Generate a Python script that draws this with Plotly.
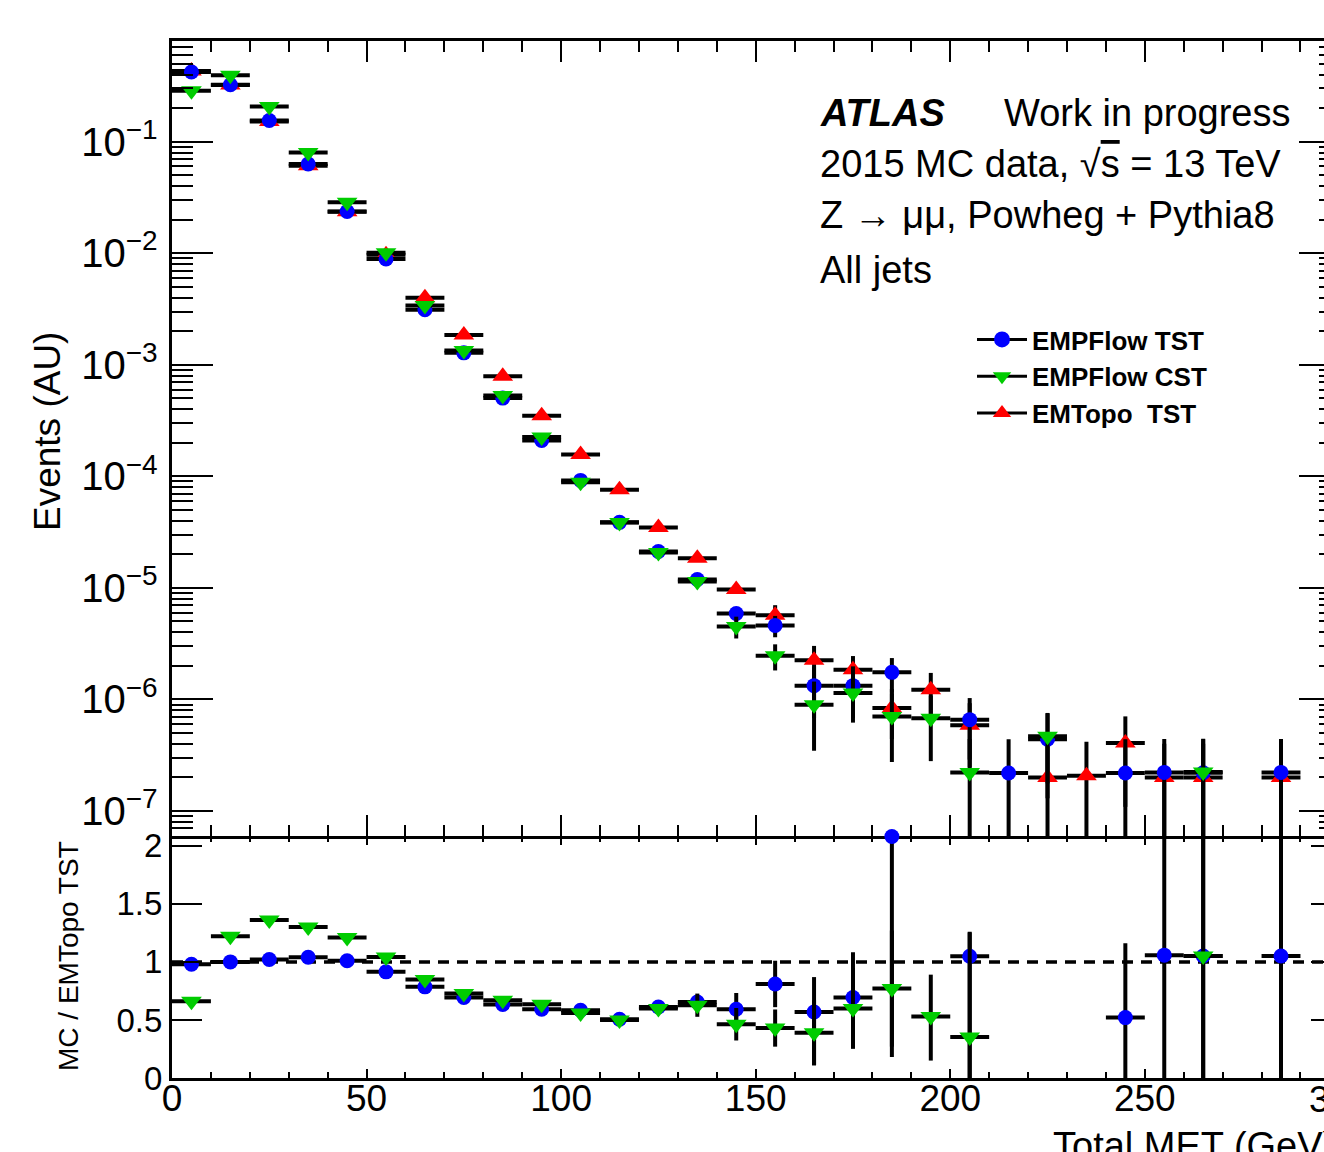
import plotly.graph_objects as go

# ---------------- data ----------------
bin_centers = [5, 15, 25, 35, 45, 55, 65, 75, 85, 95, 105, 115, 125, 135, 145,
               155, 165, 175, 185, 195, 205, 215, 225, 235, 245, 255, 265, 275, 285]
bin_half_width = 5

empflow_tst = [0.422, 0.324, 0.155, 0.0631, 0.0237, 0.00887, 0.00312, 0.00128, 0.000503, 0.00021,
               9.2e-5, 3.87e-5, 2.12e-5, 1.19e-5, 5.9e-6, 4.61e-6, 1.33e-6, 1.33e-6, 1.75e-6, None,
               6.59e-7, 2.19e-7, 4.4e-7, None, 2.19e-7, 2.22e-7, 2.2e-7, None, 2.22e-7]
empflow_tst_err = [0.002, 0.002, 0.001, 0.0005, 0.0002, 8e-5, 4e-5, 2e-5, 1e-5, 5e-6,
                   3e-6, 1.5e-6, 1e-6, 7e-7, 8e-7, 1.0e-6, 6.5e-7, 6.5e-7, 6e-7, 0,
                   3.7e-7, 2.2e-7, 3.1e-7, 0, 2.2e-7, 2.2e-7, 2.2e-7, 0, 2.2e-7]

empflow_cst = [0.286, 0.395, 0.207, 0.080, 0.0286, 0.0101, 0.0034, 0.00134, 0.00053, 0.000225,
               8.85e-5, 3.85e-5, 2.08e-5, 1.14e-5, 4.52e-6, 2.47e-6, 8.97e-7, 1.14e-6, 7.05e-7, 6.8e-7,
               2.22e-7, None, 4.67e-7, None, None, None, 2.24e-7, None, None]
empflow_cst_err = [0.002, 0.002, 0.001, 0.0005, 0.0002, 8e-5, 4e-5, 2e-5, 1e-5, 5e-6,
                   3e-6, 1.5e-6, 1e-6, 8e-7, 1.0e-6, 6.5e-7, 5.5e-7, 5.2e-7, 4.3e-7, 4.0e-7,
                   2.2e-7, 0, 2.9e-7, 0, 0, 0, 2.2e-7, 0, 0]

emtopo_tst = [0.43, 0.322, 0.152, 0.0608, 0.0235, 0.0097, 0.0040, 0.00185, 0.00079, 0.00035,
              0.000157, 7.6e-5, 3.48e-5, 1.84e-5, 9.7e-6, 5.7e-6, 2.25e-6, 1.85e-6, 8.4e-7, 1.22e-6,
              5.86e-7, None, 2.0e-7, 2.07e-7, 4.07e-7, 2.0e-7, 2.0e-7, None, 2.0e-7]
emtopo_tst_err = [0.002, 0.002, 0.001, 0.0005, 0.0002, 8e-5, 4e-5, 2e-5, 1e-5, 5e-6,
                  3e-6, 2e-6, 1.2e-6, 1e-6, 8e-7, 1.3e-6, 7.7e-7, 6e-7, 4e-7, 5.1e-7,
                  3.4e-7, 0, 2.0e-7, 2.1e-7, 2.98e-7, 2.0e-7, 2.0e-7, 0, 2.0e-7]

# ratio panel (MC / EMTopo TST), with visible error-bar extents
ratio_tst = [0.98, 1.0, 1.02, 1.04, 1.01, 0.914, 0.785, 0.693, 0.633, 0.592,
             0.583, 0.506, 0.612, 0.655, 0.592, 0.81, 0.569, 0.693, 2.08, None,
             1.049, None, None, None, 0.52, 1.058, 1.05, None, 1.05]
ratio_tst_up = [0.01, 0.01, 0.01, 0.01, 0.01, 0.01, 0.01, 0.01, 0.01, 0.015,
                0.02, 0.02, 0.03, 0.04, 0.14, 0.2, 0.3, 0.39, 0.0, 0,
                0.21, 0, 0, 0, 0.64, 1.02, 1.03, 0, 1.03]
ratio_tst_down = [0.01, 0.01, 0.01, 0.01, 0.01, 0.01, 0.01, 0.01, 0.01, 0.015,
                  0.02, 0.02, 0.03, 0.04, 0.14, 0.2, 0.46, 0.44, 1.9, 0,
                  1.049, 0, 0, 0, 0.52, 1.058, 1.05, 0, 1.05]

ratio_cst = [0.66, 1.22, 1.36, 1.30, 1.21, 1.043, 0.848, 0.727, 0.67, 0.635,
             0.56, 0.50, 0.598, 0.627, 0.463, 0.43, 0.39, 0.598, 0.77, 0.53,
             0.353, None, None, None, None, None, 1.05, None, None]
ratio_cst_up = [0.01, 0.01, 0.01, 0.01, 0.01, 0.01, 0.01, 0.01, 0.01, 0.015,
                0.02, 0.02, 0.04, 0.1, 0.14, 0.16, 0.28, 0.35, 0.5, 0.36,
                0.9, 0, 0, 0, 0, 0, 1.03, 0, 0]
ratio_cst_down = [0.01, 0.01, 0.01, 0.01, 0.01, 0.01, 0.01, 0.01, 0.01, 0.015,
                  0.02, 0.02, 0.04, 0.1, 0.14, 0.16, 0.28, 0.345, 0.5, 0.38,
                  0.353, 0, 0, 0, 0, 0, 1.05, 0, 0]

series_names = ["EMPFlow TST", "EMPFlow CST", "EMTopo\u00a0 TST"]
ratio_ticks = [0, 0.5, 1, 1.5, 2]
ratio_tick_text = ["0", "0.5", "1", "1.5", "2"]

# ---------------- styling ----------------
W, H = 1324, 1152
ML, MR, MT, MB = 172, 0, 41, 74
PLOT_W = W - ML - MR
PLOT_H = H - MT - MB
X_RANGE = [0, 296.05]
LOGY_RANGE = [-7.224, -0.0973]
RATIO_RANGE = [0, 2.084]
SPLIT = (1078 - 836) / PLOT_H

FONT = "Liberation Sans, Arial, Helvetica, sans-serif"
BLUE, GREEN, RED = "#0000ff", "#00cc00", "#ff0000"
EB_W = 4

def px(x):
    return (x - ML) / PLOT_W

def py(y):
    return (H - MB - y) / PLOT_H

xerr = [bin_half_width] * len(bin_centers)

fig = go.Figure()

def add_main(vals, errs, color, symbol, size):
    fig.add_trace(go.Scatter(
        x=bin_centers, y=vals, mode="markers", showlegend=False,
        marker=dict(color=color, symbol=symbol, size=size, line=dict(width=0)),
        error_x=dict(type="data", array=xerr, color="black", thickness=EB_W, width=0),
        error_y=dict(type="data", array=errs, color="black", thickness=EB_W, width=0),
        xaxis="x", yaxis="y"))

# draw order: red, blue, green
add_main(emtopo_tst, emtopo_tst_err, RED, "triangle-up", 18)
add_main(empflow_tst, empflow_tst_err, BLUE, "circle", 15)
add_main(empflow_cst, empflow_cst_err, GREEN, "triangle-down", 18)

def add_ratio(vals, up, down, color, symbol, size):
    fig.add_trace(go.Scatter(
        x=bin_centers, y=vals, mode="markers", showlegend=False, cliponaxis=False,
        marker=dict(color=color, symbol=symbol, size=size, line=dict(width=0)),
        error_x=dict(type="data", array=xerr, color="black", thickness=EB_W, width=0),
        error_y=dict(type="data", symmetric=False, array=up, arrayminus=down,
                     color="black", thickness=EB_W, width=0),
        xaxis="x2", yaxis="y2"))

add_ratio(ratio_tst, ratio_tst_up, ratio_tst_down, BLUE, "circle", 15)
add_ratio(ratio_cst, ratio_cst_up, ratio_cst_down, GREEN, "triangle-down", 18)

# legend entries
for name, color, symbol in zip(series_names, [BLUE, GREEN, RED],
                               ["circle", "triangle-down", "triangle-up"]):
    fig.add_trace(go.Scatter(
        x=[None], y=[None], mode="lines+markers", name="<b>" + name + "</b>",
        line=dict(color="black", width=3),
        marker=dict(color=color, symbol=symbol, size=16, line=dict(width=0)),
        xaxis="x", yaxis="y"))

# invisible helpers carrying the extra tick-only axes
fig.add_trace(go.Scatter(x=[None], y=[None], xaxis="x", yaxis="y3", showlegend=False, hoverinfo="skip"))
fig.add_trace(go.Scatter(x=[None], y=[None], xaxis="x2", yaxis="y4", showlegend=False, hoverinfo="skip"))
fig.add_trace(go.Scatter(x=[None], y=[None], xaxis="x3", yaxis="y2", showlegend=False, hoverinfo="skip"))

def tf(size):
    return dict(family=FONT, size=size, color="black")

fig.update_layout(
    width=W, height=H,
    margin=dict(l=ML, r=MR, t=MT, b=MB, pad=0),
    paper_bgcolor="white", plot_bgcolor="white",
    font=dict(family=FONT, color="black"),
    showlegend=True,
    legend=dict(x=px(972), y=py(316), xanchor="left", yanchor="top",
                bgcolor="rgba(0,0,0,0)", borderwidth=0, itemwidth=50,
                font=dict(family=FONT, size=26, color="black"),
                tracegroupgap=0, itemsizing="trace"),
    # upper panel
    xaxis=dict(domain=[0, 1], anchor="y", range=X_RANGE, showgrid=False, zeroline=False,
               showline=True, linecolor="black", linewidth=3, mirror="ticks",
               ticks="inside", ticklen=21, tickwidth=2, tickcolor="black", dtick=50, tick0=0,
               minor=dict(ticks="inside", ticklen=11, tickwidth=2, tickcolor="black", dtick=10),
               showticklabels=False),
    yaxis=dict(domain=[SPLIT, 1], anchor="x", type="log", range=LOGY_RANGE, showgrid=False,
               zeroline=False, showline=True, linecolor="black", linewidth=3, mirror=False,
               ticks="inside", ticklen=41, tickwidth=2, tickcolor="black", dtick=1,
               exponentformat="power", tickfont=tf(32), ticklabelstandoff=5,
               minor=dict(ticks="inside", ticklen=21, tickwidth=2, tickcolor="black", dtick="D1")),
    yaxis3=dict(overlaying="y", side="right", anchor="x", type="log", range=LOGY_RANGE,
                showgrid=False, zeroline=False, showline=False, ticks="inside", ticklen=25,
                tickwidth=2, tickcolor="black", dtick=1, showticklabels=False,
                minor=dict(ticks="inside", ticklen=5, tickwidth=2, tickcolor="black", dtick="D1")),
    # ratio panel
    xaxis2=dict(domain=[0, 1], anchor="y2", matches="x", range=X_RANGE, showgrid=False,
                zeroline=False, showline=True, linecolor="black", linewidth=3, mirror=False,
                ticks="inside", ticklen=9, tickwidth=2, tickcolor="black", dtick=50, tick0=0,
                minor=dict(ticks="inside", ticklen=6, tickwidth=2, tickcolor="black", dtick=10),
                tickfont=tf(37), ticklabelstandoff=-14),
    xaxis3=dict(overlaying="x2", side="top", anchor="y2", matches="x", range=X_RANGE,
                showgrid=False, zeroline=False, showline=False,
                ticks="inside", ticklen=9, tickwidth=2, tickcolor="black", dtick=50, tick0=0,
                minor=dict(ticks="inside", ticklen=6, tickwidth=2, tickcolor="black", dtick=10),
                showticklabels=False),
    yaxis2=dict(domain=[0, SPLIT], anchor="x2", range=RATIO_RANGE, showgrid=False, zeroline=False,
                showline=True, linecolor="black", linewidth=3, mirror=False,
                ticks="inside", ticklen=30, tickwidth=2, tickcolor="black",
                tickvals=ratio_ticks, ticktext=ratio_tick_text,
                tickfont=tf(33), ticklabelstandoff=0),
    yaxis4=dict(overlaying="y2", side="right", anchor="x2", range=RATIO_RANGE, showgrid=False,
                zeroline=False, showline=False, ticks="inside", ticklen=13, tickwidth=2,
                tickcolor="black", tickvals=ratio_ticks, showticklabels=False),
)

# reference line at ratio = 1
fig.add_shape(type="line", xref="paper", x0=0, x1=1, yref="y2", y0=1, y1=1,
              line=dict(color="black", width=3.5, dash="11px,8px"), layer="below")

def note(text, x, y, size, xanchor="left", yanchor="middle", angle=0):
    fig.add_annotation(text=text, xref="paper", yref="paper", x=px(x), y=py(y),
                       xanchor=xanchor, yanchor=yanchor, showarrow=False, textangle=angle,
                       font=dict(family=FONT, size=size, color="black"))

note("<b><i>ATLAS</i></b>", 818, 113, 38)
note("Work in progress", 1293, 113, 38, xanchor="right")
note("2015 MC data, √<span style=\"text-decoration:overline\">s</span> = 13 TeV", 818, 164, 38)
note("Z → μμ, Powheg + Pythia8", 818, 215, 38)
note("All jets", 818, 270, 38)

note("Events (AU)", 47, 432, 37, xanchor="center", angle=-90)
note("MC / EMTopo TST", 68, 956, 28, xanchor="center", angle=-90)
note("Total MET (GeV)", 1337, 1146, 38, xanchor="right")
note("300", 1339.5, 1099, 37, xanchor="center")

fig.write_html("out.html")
